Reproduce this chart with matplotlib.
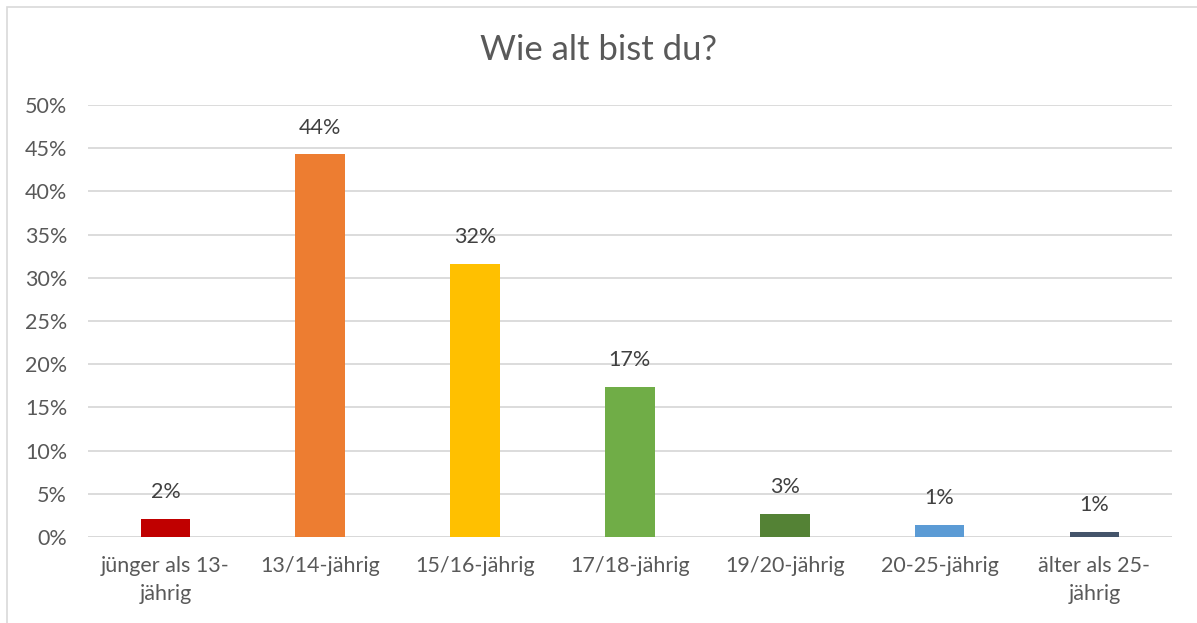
import matplotlib.pyplot as plt
from matplotlib.patches import Rectangle
from matplotlib.ticker import FuncFormatter

categories = ['jünger als 13-\njährig', '13/14-jährig', '15/16-jährig', '17/18-jährig',
              '19/20-jährig', '20-25-jährig', 'älter als 25-\njährig']
values = [2.1, 44.3, 31.6, 17.4, 2.7, 1.4, 0.6]
labels = ['2%', '44%', '32%', '17%', '3%', '1%', '1%']
colors = ['#C00000', '#ED7D31', '#FFC000', '#70AD47', '#548235', '#5B9BD5', '#44546A']

text_color = '#595959'
plt.rcParams['font.family'] = ['Lato', 'DejaVu Sans']

fig = plt.figure(figsize=(11.97, 6.23), dpi=100)
ax = fig.add_axes([0.0735, 0.138, 0.9055, 0.6935])

x = range(len(categories))
ax.bar(x, values, width=0.32, color=colors, zorder=3)
for i, (v, lab) in enumerate(zip(values, labels)):
    ax.annotate(lab, (i, v), xytext=(0, 12), textcoords='offset points',
                ha='center', va='bottom', fontsize=15.5, color='#404040')

ax.set_xlim(-0.5, len(categories) - 0.5)
ax.set_ylim(0, 50)
ax.set_yticks(range(0, 51, 5))
ax.yaxis.set_major_formatter(FuncFormatter(lambda v, p: f'{v:.0f}%'))
ax.set_xticks(list(x))
ax.set_xticklabels(categories, linespacing=1.5)
ax.grid(axis='y', color='#D9D9D9', linewidth=1.3, zorder=0)
for s in ax.spines.values():
    s.set_visible(False)
ax.axhline(0, color='#D9D9D9', linewidth=1.3, zorder=2)
ax.tick_params(length=0, labelsize=15.5, colors=text_color)
ax.tick_params(axis='y', pad=15)
ax.tick_params(axis='x', pad=14)

fig.text(0.5, 0.92, 'Wie alt bist du?', ha='center', va='center',
         fontsize=25, color=text_color)

fig.patches.append(Rectangle((7 / 1197, -0.01), 1.0, 1 - 7 / 623 + 0.01,
                             transform=fig.transFigure, fill=False,
                             edgecolor='#D9D9D9', linewidth=1.2))

fig.savefig('out.png', dpi=100)
